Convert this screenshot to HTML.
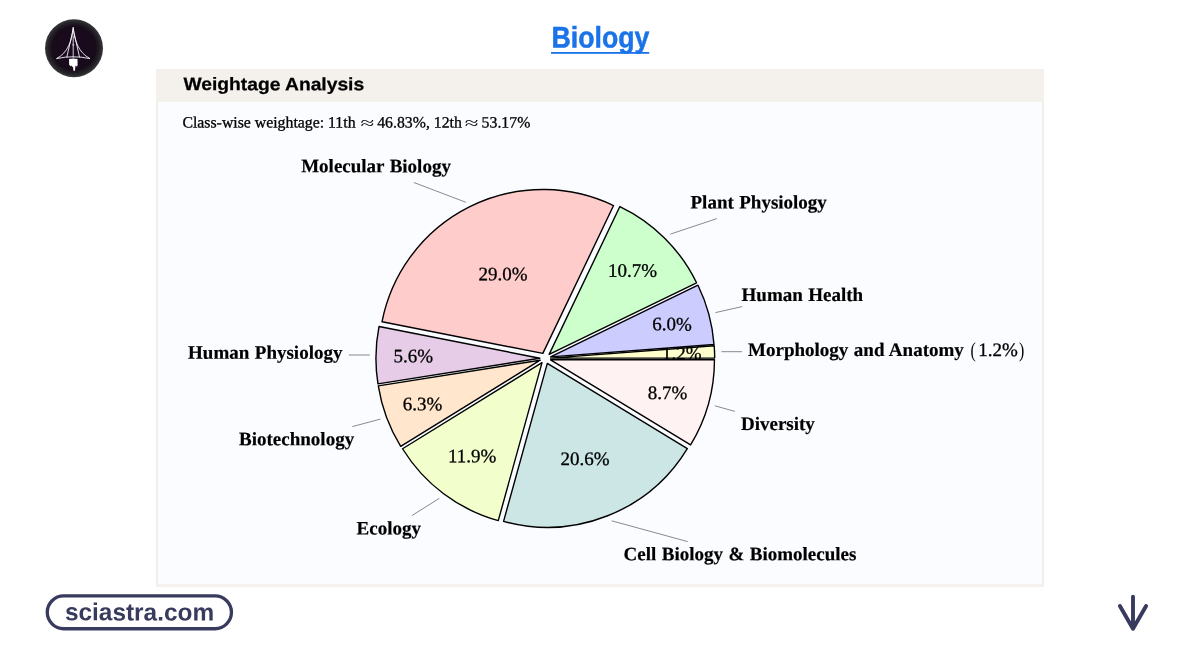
<!DOCTYPE html>
<html lang="en"><head><meta charset="utf-8"><title>Biology</title>
<style>
html,body{margin:0;padding:0;}
body{width:1200px;height:650px;overflow:hidden;background:#fff;position:relative;font-family:"Liberation Sans",sans-serif;}
.abs{position:absolute;}
#logo{left:44px;top:18px;width:60px;height:60px;}
#box{left:156px;top:69px;width:884px;height:513px;border:2px solid #f1efec;border-bottom:3px solid #f5f1ec;background:#fafcff;}
#hdr{left:156px;top:69px;width:888px;height:33px;background:#f4f0eb;}
svg text{font-family:"Liberation Serif",serif;fill:#000;}
</style></head><body>
<svg id="logo" class="abs" viewBox="44 18 60 60">
<defs><radialGradient id="lg" cx="50%" cy="50%" r="50%">
<stop offset="0" stop-color="#1d0a22"/><stop offset="0.75" stop-color="#170b1a"/><stop offset="0.9" stop-color="#252328"/><stop offset="1" stop-color="#3a393e"/></radialGradient></defs>
<circle cx="74" cy="48.2" r="29" fill="url(#lg)"/>
<g fill="none" stroke="#fff" stroke-width="0.85" stroke-linejoin="miter" stroke-linecap="round">
<path d="M73.2 27.6 C72.2 41 67.5 53 56.5 58.6 Q66 56.6 73.2 56.8 Q80.4 56.6 90 58.6 C79 53 74.2 41 73.2 27.6 Z"/>
<path d="M73.2 29 L66.8 57.2 M73.2 29 L79.5 57"/>
<path d="M73.2 36 V57.4" stroke-width="0.8"/>
<path d="M72.4 44.9 H74" stroke-width="0.6"/>
</g>
<path d="M69 59 Q73.2 58.2 77.5 59 L77.6 65 L76.9 67 L76.2 65.6 L75.4 66 L75 70.4 L74.2 71 L73.4 70.4 L73 66.6 L72.2 67 L71.4 65.4 L70.4 66.2 L69.2 64.8 Z" fill="#fff"/>
</svg>
<div id="box" class="abs"></div>
<div id="hdr" class="abs"></div>
<svg class="abs" style="left:0;top:0" width="1200" height="650" viewBox="0 0 1200 650">
<text transform="translate(600.4 47.6) rotate(0.03) scale(0.895 1)" text-anchor="middle" font-size="29.8" font-weight="bold" stroke="#1a73e8" stroke-width="0.5" style="font-family:'Liberation Sans',sans-serif;fill:#1a73e8">Biology</text>
<rect x="551" y="52" width="98.2" height="1.8" fill="#1a73e8"/>
<text transform="translate(183.4 90.1) rotate(0.03) scale(1.076 1)" font-size="17.9" font-weight="bold" stroke="#000" stroke-width="0.25" style="font-family:'Liberation Sans',sans-serif;fill:#000">Weightage Analysis</text>
<g font-size="15.8" stroke="#000" stroke-width="0.3">
<text x="182.4" y="127.5" transform="rotate(0.03 270 127.5)">Class-wise weightage: 11th</text>
<text stroke="none" text-anchor="middle" transform="translate(367.3 128.4) rotate(0.03) scale(1.58 1.05)">≈</text>
<text x="377.2" y="127.5" transform="rotate(0.03 420 127.5)">46.83%, 12th</text>
<text stroke="none" text-anchor="middle" transform="translate(471.7 128.4) rotate(0.03) scale(1.58 1.05)">≈</text>
<text x="481.6" y="127.5" transform="rotate(0.03 505 127.5)">53.17%</text>
</g>
<path d="M550.77 358.09 L714.67 358.09 A163.9 163.9 0 0 0 714.20 345.75 Z" fill="#ffffcc" stroke="#000" stroke-width="1.4" stroke-linejoin="round"/>
<text x="681.79" y="359.52" transform="rotate(0.03 681.8 353.2)" text-anchor="middle" font-size="19.0" stroke="#000" stroke-width="0.3">1.2%</text>
<path d="M550.58 356.87 L714.01 344.53 A163.9 163.9 0 0 0 697.99 285.23 Z" fill="#ccccff" stroke="#000" stroke-width="1.4" stroke-linejoin="round"/>
<text x="672.16" y="330.39" transform="rotate(0.03 672.2 324.0)" text-anchor="middle" font-size="19.0" stroke="#000" stroke-width="0.3">6.0%</text>
<path d="M549.16 354.42 L696.57 282.78 A163.9 163.9 0 0 0 619.87 206.56 Z" fill="#ccffcc" stroke="#000" stroke-width="1.4" stroke-linejoin="round"/>
<text x="632.59" y="276.82" transform="rotate(0.03 632.6 270.5)" text-anchor="middle" font-size="19.0" stroke="#000" stroke-width="0.3">10.7%</text>
<path d="M542.85 353.41 L613.56 205.55 A163.9 163.9 0 0 0 382.05 321.69 Z" fill="#ffcccc" stroke="#000" stroke-width="1.4" stroke-linejoin="round"/>
<text x="502.98" y="280.29" transform="rotate(0.03 503.0 273.9)" text-anchor="middle" font-size="19.0" stroke="#000" stroke-width="0.3">29.0%</text>
<path d="M539.83 358.20 L379.03 326.47 A163.9 163.9 0 0 0 377.95 383.84 Z" fill="#e6cce6" stroke="#000" stroke-width="1.4" stroke-linejoin="round"/>
<text x="413.27" y="362.18" transform="rotate(0.03 413.3 355.8)" text-anchor="middle" font-size="19.0" stroke="#000" stroke-width="0.3">5.6%</text>
<path d="M540.17 360.20 L378.29 385.84 A163.9 163.9 0 0 0 400.69 446.28 Z" fill="#ffe6cc" stroke="#000" stroke-width="1.4" stroke-linejoin="round"/>
<text x="422.54" y="410.17" transform="rotate(0.03 422.5 403.8)" text-anchor="middle" font-size="19.0" stroke="#000" stroke-width="0.3">6.3%</text>
<path d="M542.02 362.67 L402.54 448.75 A163.9 163.9 0 0 0 498.27 520.63 Z" fill="#f2ffcc" stroke="#000" stroke-width="1.4" stroke-linejoin="round"/>
<text x="472.10" y="462.15" transform="rotate(0.03 472.1 455.8)" text-anchor="middle" font-size="19.0" stroke="#000" stroke-width="0.3">11.9%</text>
<path d="M547.31 363.39 L503.57 521.34 A163.9 163.9 0 0 0 687.33 448.58 Z" fill="#cce6e6" stroke="#000" stroke-width="1.4" stroke-linejoin="round"/>
<text x="585.02" y="465.00" transform="rotate(0.03 585.0 458.6)" text-anchor="middle" font-size="19.0" stroke="#000" stroke-width="0.3">20.6%</text>
<path d="M550.57 359.78 L690.58 444.97 A163.9 163.9 0 0 0 714.47 359.78 Z" fill="#fff2f2" stroke="#000" stroke-width="1.4" stroke-linejoin="round"/>
<text x="667.64" y="398.96" transform="rotate(0.03 667.6 392.6)" text-anchor="middle" font-size="19.0" stroke="#000" stroke-width="0.3">8.7%</text>
<line x1="721.45" y1="351.70" x2="742.05" y2="351.70" stroke="#7d7d7d" stroke-width="0.9"/>
<text x="978.2" y="356.0" transform="rotate(0.03 978 356)" font-size="19" stroke="#000" stroke-width="0.3">1.2%</text>
<text transform="translate(970.6 357.2) scale(0.72 1)" font-size="22">(</text>
<text transform="translate(1018.9 357.2) scale(0.72 1)" font-size="22">)</text>
<text x="748.10" y="356.00" transform="rotate(0.03 748.2 356.0)" font-size="19.0" font-weight="bold" word-spacing="0.7" stroke="#000" stroke-width="0.2">Morphology and Anatomy</text>
<line x1="715.45" y1="312.60" x2="742.15" y2="306.60" stroke="#7d7d7d" stroke-width="0.9"/>
<text x="741.60" y="301.00" transform="rotate(0.03 741.7 301.0)" font-size="19.0" font-weight="bold" word-spacing="0.7" stroke="#000" stroke-width="0.2">Human Health</text>
<line x1="670.45" y1="234.10" x2="716.85" y2="218.60" stroke="#7d7d7d" stroke-width="0.9"/>
<text x="690.50" y="208.55" transform="rotate(0.03 690.6 208.6)" font-size="19.0" font-weight="bold" word-spacing="0.7" stroke="#000" stroke-width="0.2">Plant Physiology</text>
<line x1="465.95" y1="202.30" x2="413.85" y2="182.50" stroke="#7d7d7d" stroke-width="0.9"/>
<text x="301.20" y="172.33" transform="rotate(0.03 301.3 172.3)" font-size="19.0" font-weight="bold" word-spacing="0.7" stroke="#000" stroke-width="0.2">Molecular Biology</text>
<line x1="369.75" y1="355.00" x2="348.85" y2="355.00" stroke="#7d7d7d" stroke-width="0.9"/>
<text x="188.10" y="358.67" transform="rotate(0.03 188.2 358.7)" font-size="19.0" font-weight="bold" word-spacing="0.7" stroke="#000" stroke-width="0.2">Human Physiology</text>
<line x1="380.45" y1="419.10" x2="352.35" y2="426.60" stroke="#7d7d7d" stroke-width="0.9"/>
<text x="239.10" y="445.27" transform="rotate(0.03 239.2 445.3)" font-size="19.0" font-weight="bold" word-spacing="0.7" stroke="#000" stroke-width="0.2">Biotechnology</text>
<line x1="439.35" y1="498.30" x2="411.85" y2="515.60" stroke="#7d7d7d" stroke-width="0.9"/>
<text x="356.60" y="534.50" transform="rotate(0.03 356.7 534.5)" font-size="19.0" font-weight="bold" word-spacing="0.7" stroke="#000" stroke-width="0.2">Ecology</text>
<line x1="611.65" y1="520.80" x2="687.65" y2="541.60" stroke="#7d7d7d" stroke-width="0.9"/>
<text x="623.60" y="560.15" transform="rotate(0.03 623.7 560.1)" font-size="19.0" font-weight="bold" word-spacing="0.7" stroke="#000" stroke-width="0.2">Cell Biology &amp; Biomolecules</text>
<line x1="714.85" y1="405.80" x2="734.95" y2="411.40" stroke="#7d7d7d" stroke-width="0.9"/>
<text x="741.00" y="430.00" transform="rotate(0.03 741.1 430.0)" font-size="19.0" font-weight="bold" word-spacing="0.7" stroke="#000" stroke-width="0.2">Diversity</text>
<rect x="47.25" y="595.95" width="184.2" height="32.8" rx="16.4" fill="#fff" stroke="#383b5e" stroke-width="3.3"/>
<text x="139.5" y="620.4" transform="rotate(0.03 139.5 620)" text-anchor="middle" font-size="24.4" font-weight="bold" style="font-family:'Liberation Sans',sans-serif;fill:#383b5e">sciastra.com</text>
<g fill="none" stroke="#383b5e" stroke-width="3.9" stroke-linecap="round" stroke-linejoin="round">
<path d="M1133 596.8 V628.8 M1119.9 606 L1133 628.8 L1146.1 606"/>
</g>
</svg>
</body></html>
